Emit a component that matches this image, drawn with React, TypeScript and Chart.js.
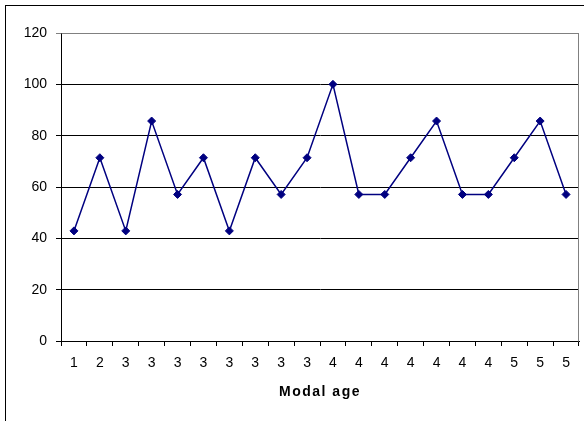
import React, { useEffect, useRef } from "react";
import { Chart, registerables } from "chart.js";

Chart.register(...registerables);

const categories = ["1", "2", "3", "3", "3", "3", "3", "3", "3", "3", "4", "4", "4", "4", "4", "4", "4", "5", "5", "5"];
const values = [42.9, 71.4, 42.9, 85.7, 57.1, 71.4, 42.9, 71.4, 57.1, 71.4, 100, 57.1, 57.1, 71.4, 85.7, 57.1, 57.1, 71.4, 85.7, 57.1];
const yMin = 0;
const yMax = 120;
const yStep = 20;
const xTitle = "Modal age";

const FONT = "'Liberation Sans', Arial, sans-serif";

const plotBorder = {
  id: "plotBorder",
  beforeDraw(chart: any) {
    const s = chart.scales.x;
    if (s && !s.__wrapped) {
      const orig = s.drawTitle.bind(s);
      s.drawTitle = function () {
        const ctx = chart.ctx;
        ctx.save();
        (ctx as any).letterSpacing = "1.5px";
        orig();
        ctx.restore();
      };
      s.__wrapped = true;
    }
  },
  beforeDatasetsDraw(chart: any) {
    const { ctx, chartArea } = chart;
    ctx.save();
    ctx.strokeStyle = "#808080";
    ctx.lineWidth = 1;
    ctx.beginPath();
    const l = Math.round(chartArea.left) + 0.5;
    const t = Math.round(chartArea.top) + 0.5;
    const r = Math.round(chartArea.right) - 0.5;
    const b = Math.round(chartArea.bottom) + 0.5;
    ctx.moveTo(l, t);
    ctx.lineTo(r, t);
    ctx.lineTo(r, b);
    ctx.stroke();
    ctx.restore();
  },
};

export default function App() {
  const ref = useRef<HTMLCanvasElement | null>(null);
  useEffect(() => {
    if (!ref.current) return;
    const chart = new Chart(ref.current, {
      type: "line",
      data: {
        labels: categories,
        datasets: [
          {
            data: values,
            borderColor: "#000080",
            backgroundColor: "#000080",
            borderWidth: 1.5,
            pointStyle: "rectRot",
            pointRadius: 4,
            pointBorderWidth: 1,
            pointBorderColor: "#000080",
            pointBackgroundColor: "#000080",
            tension: 0,
          },
        ],
      },
      options: {
        animation: false,
        responsive: false,
        layout: { padding: { left: 0, top: 33, right: 5, bottom: 20 } },
        plugins: { legend: { display: false }, tooltip: { enabled: false } },
        scales: {
          x: {
            offset: true,
            grid: { offset: true, drawOnChartArea: false, drawTicks: true, tickLength: 5, color: "#000" },
            border: { color: "#000", width: 1 },
            ticks: { color: "#000", font: { family: FONT, size: 14 }, padding: 9, maxRotation: 0, autoSkip: false },
            title: { display: true, text: xTitle, color: "#000", font: { family: FONT, size: 14, weight: "bold" }, padding: 0 },
            afterFit: (s: any) => { s.height = 60; },
          },
          y: {
            min: yMin,
            max: yMax,
            ticks: { stepSize: yStep, color: "#000", font: { family: FONT, size: 14 }, padding: 9 },
            grid: {
              color: (c: any) => (c.tick && c.tick.value === yMax ? "#808080" : "#000"),
              tickLength: 5,
            },
            border: { color: "#000", width: 1 },
            afterFit: (s: any) => { s.width = 61; },
          },
        },
      },
      plugins: [plotBorder],
    });
    return () => chart.destroy();
  }, []);
  return (
    <div style={{ position: "fixed", left: 0, top: 0, width: 584, height: 421, background: "#fff", overflow: "hidden" }}>
      <div style={{ position: "absolute", left: 5, top: 5, width: 700, height: 600, border: "1px solid #000", boxSizing: "border-box" }} />
      <canvas ref={ref} width={584} height={421} style={{ position: "absolute", left: 0, top: 0 }} />
    </div>
  );
}
